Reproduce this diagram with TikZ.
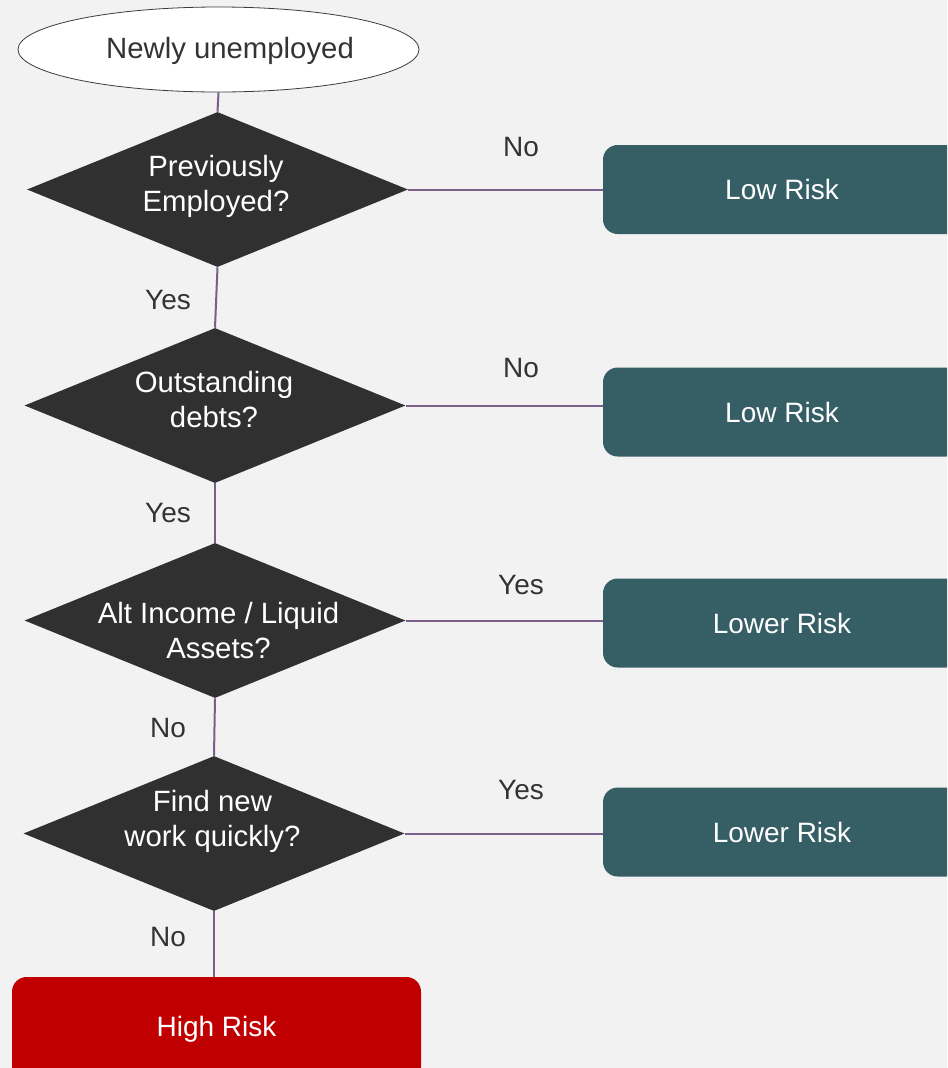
\documentclass[tikz,border=0pt]{standalone}
\usepackage{fontspec}
\setmainfont{Liberation Sans}
\usetikzlibrary{shapes.geometric}

\definecolor{pagebg}{RGB}{242,242,242}
\definecolor{decisionfill}{RGB}{48,48,48}
\definecolor{riskteal}{RGB}{54,94,101}
\definecolor{riskred}{RGB}{192,0,0}
\definecolor{linkcol}{RGB}{122,96,136}
\definecolor{labelcol}{RGB}{51,51,51}

\tikzset{
	startnode/.style={ellipse, draw={rgb, 255:red, 60; green, 60; blue, 60 }, line width=0.6pt, fill=white,
		minimum width=300.75pt, minimum height=63.75pt, inner sep=0pt},
	starttext/.style={text=labelcol, inner sep=0pt, font=\fontsize{22}{26.25}\selectfont},
	decision/.style={diamond, fill=decisionfill, minimum width=285.75pt, minimum height=116.25pt, inner sep=0pt},
	decisiontext/.style={align=center, text=white, inner sep=0pt, font=\fontsize{22}{26.25}\selectfont},
	riskbox/.style={rectangle, rounded corners=11pt, fill=riskteal, minimum width=268.5pt, minimum height=66.75pt,
		text=white, font=\fontsize{21}{25}\selectfont},
	highbox/.style={rectangle, rounded corners=11pt, fill=riskred, minimum width=306.75pt, minimum height=78pt,
		text=white, font=\fontsize{21}{25}\selectfont},
	answer/.style={text=labelcol, inner sep=0pt, font=\fontsize{21}{25}\selectfont},
	link/.style={draw=linkcol, line width=1.5pt}
}

\begin{document}
\begin{tikzpicture}[x=0.75pt,y=0.75pt,yscale=-1,xscale=1]
	\path [use as bounding box, clip] (0,0) rectangle (947,1068);
	\fill [pagebg] (0,0) rectangle (947,1068);

	% Start
	\node [startnode] (start) at (218.5,49.5) {};
	\node [starttext] (starttxt) at (230,51) {Newly unemployed};

	% Decisions
	\node [decision] (prev) at (217.5,189.5) {};
	\node [decisiontext] (prevtxt) at (216,186) {Previously\\Employed?};
	\node [decision] (debts) at (215,405.5) {};
	\node [decisiontext] (debtstxt) at (214,400) {Outstanding\\debts?};
	\node [decision] (assets) at (215,620.5) {};
	\node [decisiontext] (assetstxt) at (218.5,631) {Alt Income / Liquid\\Assets?};
	\node [decision] (work) at (214,833.5) {};
	\node [decisiontext] (worktxt) at (212.5,821.5) {Find new\\work quickly?};

	% Outcomes
	\node [riskbox] (low1) at (782,189.5) {Low Risk};
	\node [riskbox] (low2) at (782,412) {Low Risk};
	\node [riskbox] (lower1) at (782,623) {Lower Risk};
	\node [riskbox] (lower2) at (782,832) {Lower Risk};
	\node [highbox] (high) at (216.5,1029) {High Risk};

	% Connectors
	\draw [link] (start.south) -- (prev.north);
	\draw [link] (prev.south) -- (debts.north);
	\draw [link] (debts.south) -- (assets.north);
	\draw [link] (assets.south) -- (work.north);
	\draw [link] (work.south) -- (work.south |- high.north);
	\draw [link] (prev.east) -- (low1.west);
	\draw [link] (debts.east) -- (debts.east -| low2.west);
	\draw [link] (assets.east) -- (assets.east -| lower1.west);
	\draw [link] (work.east) -- (work.east -| lower2.west);

	% Answer labels
	\node [answer] (a1) at (521,147) {No};
	\node [answer] (a2) at (168,300) {Yes};
	\node [answer] (a3) at (521,368) {No};
	\node [answer] (a4) at (168,513) {Yes};
	\node [answer] (a5) at (521,585) {Yes};
	\node [answer] (a6) at (168,728) {No};
	\node [answer] (a7) at (521,790) {Yes};
	\node [answer] (a8) at (168,937) {No};

\end{tikzpicture}
\end{document}
